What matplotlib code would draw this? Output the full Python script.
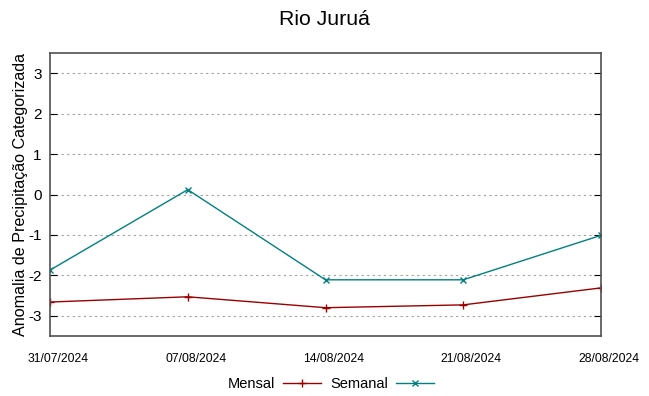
import numpy as np
import matplotlib
matplotlib.use("Agg")
import matplotlib.pyplot as plt
import matplotlib.transforms as mtransforms
from datetime import datetime

plt.rcParams['font.family'] = ['Liberation Sans', 'DejaVu Sans']

# dados
datas = ['31/07/2024', '07/08/2024', '14/08/2024', '21/08/2024', '28/08/2024']
mensal = [-2.66, -2.53, -2.80, -2.73, -2.31]
semanal = [-1.87, 0.12, -2.11, -2.11, -1.01]
y_ticks = [-3, -2, -1, 0, 1, 2, 3]

x = [datetime.strptime(d, '%d/%m/%Y') for d in datas]

fig = plt.figure(figsize=(6.49, 3.96), dpi=100)
ax = fig.add_axes([50/649, 1-336/396, 551/649, 283/396])

ax.plot(x, mensal, '-', marker='+', color='#990000', lw=1, ms=6, mew=1, label='Mensal')
ax.plot(x, semanal, '-', marker='x', color='#008080', lw=1, ms=5, mew=1, label='Semanal')

ax.set_xlim(x[0], x[-1])
ax.set_ylim(-3.5, 3.5)
ax.set_yticks(y_ticks)
ax.set_yticklabels([str(v) for v in y_ticks], fontsize=11)
ax.set_xticks(x)
ax.set_xticklabels(datas, fontsize=8.7)
ax.tick_params(axis='y', direction='in', length=5, right=True, pad=6, color='black')
ax.tick_params(axis='x', direction='in', length=0, pad=12)
# rotulos de data deslocados um pouco para a direita, como no original
off = mtransforms.ScaledTranslation(8/100, 0, fig.dpi_scale_trans)
for lbl in ax.get_xticklabels():
    lbl.set_transform(lbl.get_transform() + off)
ax.grid(axis='y', linestyle=(0, (2, 3)), color='#a0a0a0', lw=0.8)
for s in ax.spines.values():
    s.set_color('#505050')
    s.set_linewidth(1.2)

ax.set_ylabel('Anomalia de Precipitação Categorizada', fontsize=11.6, labelpad=0)
fig.suptitle('Rio Juruá', fontsize=15.3, y=0.975)

leg = ax.legend(loc='upper center', bbox_to_anchor=(0.51, -0.1), ncol=2, frameon=False,
                fontsize=10.5, handlelength=2.6, handletextpad=0.55, columnspacing=0.6,
                markerfirst=False)

fig.savefig('out.png', dpi=100)
